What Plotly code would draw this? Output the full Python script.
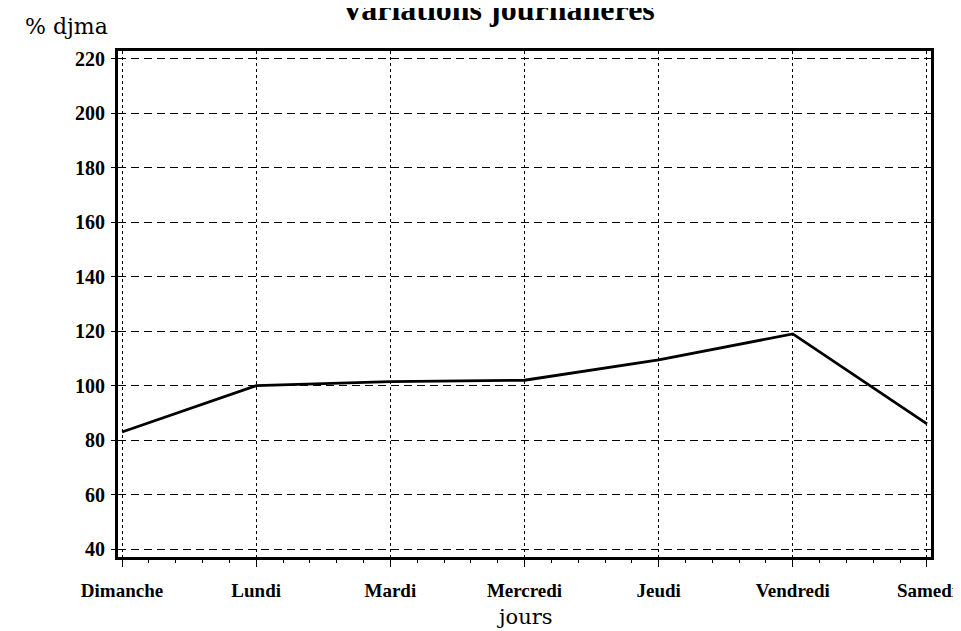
import plotly.graph_objects as go

days = ["Dimanche", "Lundi", "Mardi", "Mercredi", "Jeudi", "Vendredi", "Samedi"]
values = [83, 100, 101.5, 102, 109.5, 119, 86]
y_ticks = [40, 60, 80, 100, 120, 140, 160, 180, 200, 220]

x_idx = list(range(len(days)))

fig = go.Figure()
fig.add_trace(go.Scatter(x=x_idx, y=values, mode="lines",
                         line=dict(color="black", width=2.8), showlegend=False,
                         hoverinfo="skip"))

serif = "Liberation Serif"
fig.update_layout(
    width=961, height=631,
    margin=dict(l=110, r=29, t=43, b=82),
    paper_bgcolor="white", plot_bgcolor="white",
    xaxis=dict(range=[-0.03, 6.03], tickvals=x_idx, ticktext=days,
               showgrid=True, gridcolor="black", gridwidth=1, griddash="3px,3px",
               showline=True, linecolor="black", linewidth=2.5, mirror=True,
               ticks="outside", ticklen=7, tickwidth=1, tickcolor="black",
               minor=dict(dtick=0.2, ticks="outside", ticklen=3, tickcolor="black", showgrid=False),
               ticklabelstandoff=7,
               tickfont=dict(family=serif, size=19, color="black", weight="bold"),
               zeroline=False, fixedrange=True),
    yaxis=dict(range=[37.1, 222.9], tickvals=y_ticks,
               showgrid=True, gridcolor="black", gridwidth=1, griddash="8px,5px",
               showline=True, linecolor="black", linewidth=3, mirror=True,
               ticks="outside", ticklen=4, tickwidth=1, tickcolor="black",
               ticklabelstandoff=2,
               tickfont=dict(family=serif, size=20, color="black", weight="bold"),
               zeroline=False, fixedrange=True),
    annotations=[
        dict(text="<b>Variations journalières</b>", xref="paper", yref="paper",
             x=(494 - 110) / 822, y=1, xanchor="center", yanchor="bottom", yshift=22,
             showarrow=False, font=dict(family=serif, size=32, color="black")),
        dict(text="% djma", xref="paper", yref="paper",
             x=(14 - 110) / 822, y=1, xanchor="left", yanchor="bottom", yshift=10,
             showarrow=False, font=dict(family="DejaVu Serif", size=22, color="black")),
        dict(text="jours", xref="paper", yref="paper",
             x=0.5, y=0, xanchor="center", yanchor="top", yshift=-46,
             showarrow=False, font=dict(family="DejaVu Serif", size=21, color="black")),
    ],
)

fig.write_html("out.html")
